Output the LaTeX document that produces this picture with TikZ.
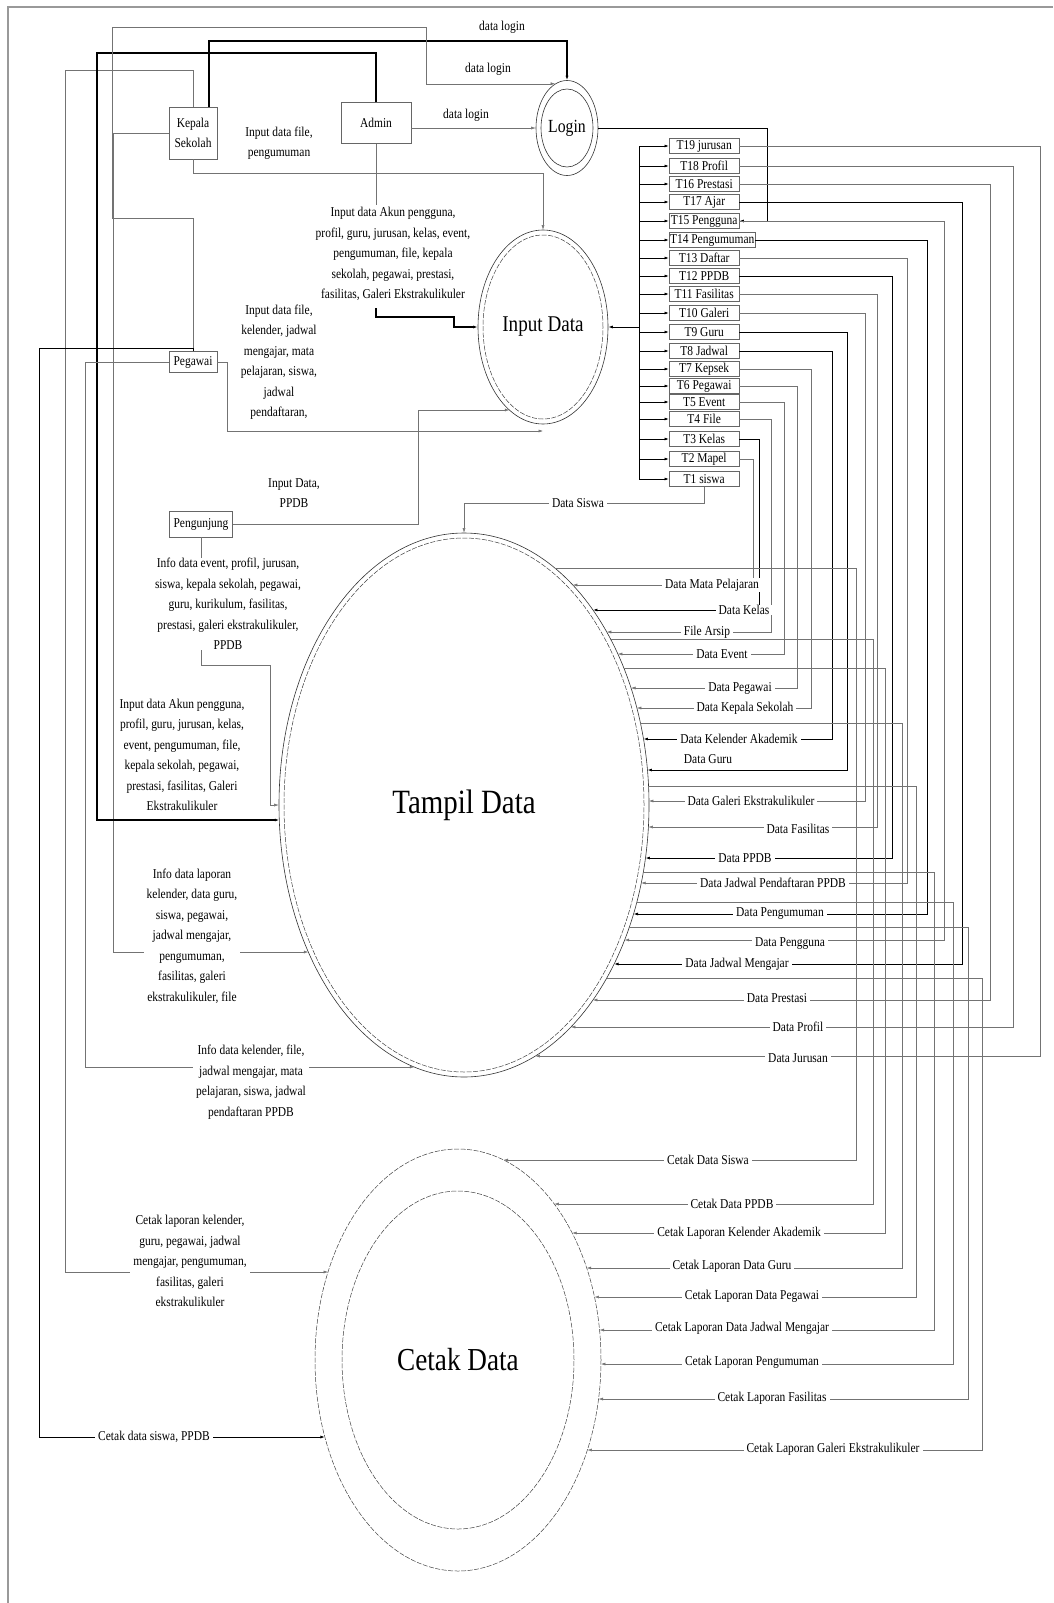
\documentclass[tikz,border=0pt]{standalone}
\usepackage{fontspec}
\setmainfont{Liberation Serif}[FakeStretch=0.85]
\usepackage{tikz}
\usetikzlibrary{arrows.meta,shapes.geometric}

\begin{document}
\begin{tikzpicture}[x=1pt,y=-1pt,
  wire/.style={draw=black!55,line width=0.5pt},
  dark/.style={draw=black,line width=0.8pt},
  heavy/.style={draw=black,line width=1.6pt},
  flow/.style={-{Latex[length=4.5pt,width=3pt]}},
  entity/.style={draw=black!60,fill=white,align=center,inner sep=1pt,font=\fontsize{13.5}{20}\selectfont},
  store/.style={draw=black!60,fill=white,anchor=west,minimum width=70pt,minimum height=15pt,inner sep=0.8pt,font=\fontsize{13.5}{14}\selectfont},
  lbl/.style={fill=white,align=center,inner ysep=0.5pt,inner xsep=3pt,font=\fontsize{13.5}{20.5}\selectfont},
  proc/.style={ellipse,draw=black!80,line width=0.6pt,inner sep=0pt},
  ring/.style={draw=black!75,line width=0.5pt,dash pattern=on 5pt off 1.5pt}]

  \useasboundingbox (0,0) rectangle (1053,1603);
  \draw [black!40,line width=1.2pt] (8,1603) -- (8,7) -- (1053,7);

  \node [proc,minimum width=62pt,minimum height=95pt,font=\fontsize{18.5}{18.5}\selectfont] (login) at (567,128) {Login};
  \draw [black!80,line width=0.6pt] (login.center) ellipse [x radius=26pt,y radius=39pt];
  \node [proc,minimum width=130pt,minimum height=194pt,font=\fontsize{22.5}{22.5}\selectfont] (inp) at (543,327) {Input Data};
  \draw [ring] (inp.center) ellipse [x radius=60pt,y radius=92pt];
  \node [proc,minimum width=370pt,minimum height=544pt,font=\fontsize{34}{34}\selectfont] (tampil) at (464,805) {Tampil Data};
  \draw [ring] (tampil.center) ellipse [x radius=180pt,y radius=267pt];
  \node [proc,ring,minimum width=286pt,minimum height=422pt,font=\fontsize{32}{32}\selectfont] (cetak) at (458,1360) {Cetak Data};
  \draw [ring] (cetak.center) ellipse [x radius=116pt,y radius=169pt];

  \node [entity,minimum width=48pt,minimum height=52pt] (kepala) at (193,133) {Kepala\\Sekolah};
  \node [entity,minimum width=70pt,minimum height=41pt] (admin) at (376,123) {Admin};
  \node [entity,minimum width=48pt,minimum height=21pt] (peg) at (193,362) {Pegawai};
  \node [entity,minimum width=63pt,minimum height=26pt] (peng) at (201,524) {Pengunjung};

  \foreach \nm/\txt/\yy in {t19/T19 jurusan/146, t18/T18 Profil/166, t16/T16 Prestasi/184, t17/T17 Ajar/202,
      t15/T15 Pengguna/221, t14/T14 Pengumuman/240, t13/T13 Daftar/258, t12/T12 PPDB/276, t11/T11 Fasilitas/294,
      t10/T10 Galeri/313, t9/T9 Guru/332, t8/T8 Jadwal/351, t7/T7 Kepsek/369, t6/T6 Pegawai/386, t5/T5 Event/402,
      t4/T4 File/419, t3/T3 Kelas/439, t2/T2 Mapel/459, t1/T1 siswa/479}
    \node [store] (\nm) at (669,\yy) {\txt};

  \draw [dark] (t19.west -| 639,0) -- (t1.west -| 639,0);
  \foreach \nm in {t19,t18,t16,t17,t15,t14,t13,t12,t11,t10,t9,t8,t7,t6,t5,t4,t3,t2,t1}
    \draw [dark,flow] (\nm.west -| 639,0) -- (\nm.west);
  \draw [dark,flow] (inp.east -| 639,0) -- (inp.east);
  \draw [dark,flow] (login.east) -| (767,221) -- (t15.east);

  \foreach \nm/\xv/\yy/\st in {t2/753/585/wire, t3/759/610/dark, t4/771/632/wire, t5/784/654/wire, t6/797/688/wire,
      t7/811/708/wire, t8/832/739/dark, t9/847/770/dark, t10/865/801/wire, t11/877/827/wire, t12/892/858/dark,
      t13/907/883/wire, t14/927/914/dark, t15/944/940/wire, t17/962/964/dark, t16/990/1000/wire,
      t18/1013/1027/wire, t19/1040/1056/wire} {
    \pgfmathsetmacro\ex{464+185*sqrt(1-((\yy-805)/272)^2)}
    \draw [\st,flow] (\nm.east) -| (\xv,\yy) -- (\ex,\yy);
  }
  \draw [wire,flow] (t1.south) |- (tampil.north |- 0,503) -- (tampil.north);

  \foreach \xv/\yt/\yc in {856/568/1160, 873/639/1204, 885/668/1233, 902/723/1268, 916/786/1297,
      934/872/1330, 953/902/1364, 968/927/1399, 982/978/1450} {
    \pgfmathsetmacro\ta{464+185*sqrt(1-((\yt-805)/272)^2)}
    \pgfmathsetmacro\cb{458+143*sqrt(1-((\yc-1360)/211)^2)}
    \draw [wire,flow] (\ta,\yt) -| (\xv,\yc) -- (\cb,\yc);
  }

  \pgfmathsetmacro\ka{458-143*sqrt(1-((1272-1360)/211)^2)}
  \pgfmathsetmacro\kb{458-143*sqrt(1-((1437-1360)/211)^2)}
  \pgfmathsetmacro\ta{464-185*sqrt(1-((952-805)/272)^2)}
  \pgfmathsetmacro\tb{464-185*sqrt(1-((820-805)/272)^2)}
  \pgfmathsetmacro\tc{464-185*sqrt(1-((1067-805)/272)^2)}
  \pgfmathsetmacro\ia{543-65*sqrt(1-((410-327)/97)^2)}

  \draw [heavy,flow] ([xshift=16pt]kepala.north) |- (login.north |- 0,41) -- (login.north);
  \draw [wire,flow] (kepala.north) |- (65,70) |- (\ka,1272);
  \draw [wire,flow] (kepala.west) -| (113,952) -- (\ta,952);
  \draw [wire,flow] (kepala.south) |- (inp.north |- 0,173) -- (inp.north);

  \draw [wire,flow] (admin.east |- login) -- (login);
  \draw [heavy,flow] (admin.north) |- (97,53) |- (\tb,820);
  \draw [wire] (admin.south) -- (admin.south |- 0,205);
  \draw [heavy,flow] (admin.south |- 0,308) |- (454,317) |- (inp.west);

  \draw [wire,flow] (peg.north) |- (112,218) |- (426,27) |- (login.105);
  \draw [dark,flow] (peg.north) |- (39,348) |- (\kb,1437);
  \draw [wire,flow] (peg.west) -| (85,1067) -- (\tc,1067);
  \draw [wire,flow] (peg.east) -| (227,431) -- (inp.south |- 0,431);

  \draw [wire,flow] (peng.east) -| (418,410) -- (\ia,410);
  \draw [wire,flow] (peng.south) |- (270,665) |- (tampil.west);

  \node [lbl] (dl1) at (502,27) {data login};
  \node [lbl] (dl2) at (488,69) {data login};
  \node [lbl] (dl3) at (466,115) {data login};
  \node [lbl] (l1) at (279,143) {Input data file,\\pengumuman};
  \node [lbl] (l2) at (393,254) {Input data Akun pengguna,\\profil, guru, jurusan, kelas, event,\\pengumuman, file, kepala\\sekolah, pegawai, prestasi,\\fasilitas, Galeri Ekstrakulikuler};
  \node [lbl] (l3) at (279,362) {Input data file,\\kelender, jadwal\\mengajar, mata\\pelajaran, siswa,\\jadwal\\pendaftaran,};
  \node [lbl] (l4) at (294,493) {Input Data,\\PPDB};
  \node [lbl] (l5) at (228,604) {Info data event, profil, jurusan,\\siswa, kepala sekolah, pegawai,\\guru, kurikulum, fasilitas,\\prestasi, galeri ekstrakulikuler,\\PPDB};
  \node [lbl] (l6) at (182,755) {Input data Akun pengguna,\\profil, guru, jurusan, kelas,\\event, pengumuman, file,\\kepala sekolah, pegawai,\\prestasi, fasilitas, Galeri\\Ekstrakulikuler};
  \node [lbl] (l7) at (192,936) {Info data laporan\\kelender, data guru,\\siswa, pegawai,\\jadwal mengajar,\\pengumuman,\\fasilitas, galeri\\ekstrakulikuler, file};
  \node [lbl] (l8) at (251,1082) {Info data kelender, file,\\jadwal mengajar, mata\\pelajaran, siswa, jadwal\\pendaftaran PPDB};
  \node [lbl] (l9) at (190,1261) {Cetak laporan kelender,\\guru, pegawai, jadwal\\mengajar, pengumuman,\\fasilitas, galeri\\ekstrakulikuler};
  \node [lbl] (l10) at (154,1437) {Cetak data siswa, PPDB};
  \node [lbl] (l11) at (578,503) {Data Siswa};

  \foreach \xx/\yy/\txt [count=\i] in {712/585/Data Mata Pelajaran, 744/610/Data Kelas, 707/632/File Arsip,
      722/654/Data Event, 740/688/Data Pegawai, 745/708/Data Kepala Sekolah, 739/739/Data Kelender Akademik,
      708/759/Data Guru, 751/801/Data Galeri Ekstrakulikuler, 798/829/Data Fasilitas, 745/858/Data PPDB,
      773/883/Data Jadwal Pendaftaran PPDB, 780/914/Data Pengumuman, 790/944/Data Pengguna,
      737/964/Data Jadwal Mengajar, 777/998/Data Prestasi, 798/1027/Data Profil, 798/1058/Data Jurusan}
    \node [lbl] (dt\i) at (\xx,\yy) {\txt};

  \foreach \xx/\yy/\txt [count=\i] in {708/1160/Cetak Data Siswa, 732/1204/Cetak Data PPDB,
      739/1233/Cetak Laporan Kelender Akademik, 732/1266/Cetak Laporan Data Guru,
      752/1296/Cetak Laporan Data Pegawai, 742/1328/Cetak Laporan Data Jadwal Mengajar,
      752/1362/Cetak Laporan Pengumuman, 772/1398/Cetak Laporan Fasilitas,
      833/1449/Cetak Laporan Galeri Ekstrakulikuler}
    \node [lbl] (ct\i) at (\xx,\yy) {\txt};
\end{tikzpicture}
\end{document}
